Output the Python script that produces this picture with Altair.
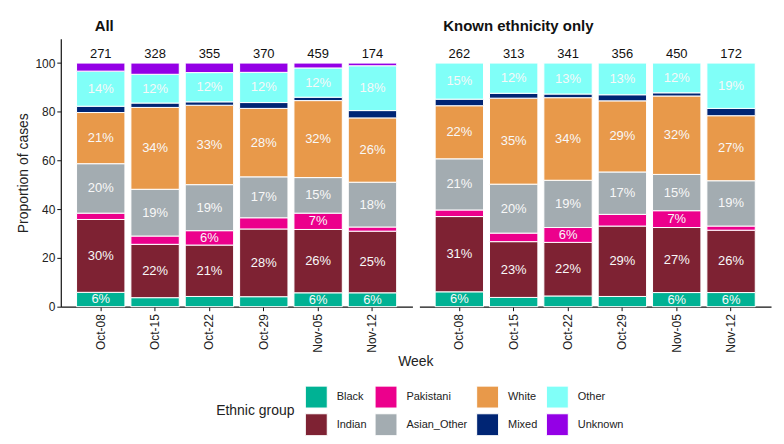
import altair as alt
import pandas as pd

FONT = "Liberation Sans, Arial, sans-serif"

weeks = ["Oct-08", "Oct-15", "Oct-22", "Oct-29", "Nov-05", "Nov-12"]
groups = ["Black", "Indian", "Pakistani", "Asian_Other", "White", "Mixed", "Other", "Unknown"]
group_colors = {
    "Black": "#00B294", "Indian": "#7E2233", "Pakistani": "#EC008C", "Asian_Other": "#A3ACB1",
    "White": "#E8994A", "Mixed": "#002574", "Other": "#80FFF8", "Unknown": "#9400E6",
}
legend_order = ["Black", "Pakistani", "White", "Other", "Indian", "Asian_Other", "Mixed", "Unknown"]

# Panel "All": case counts and percentages per ethnic group
all_n = [271, 328, 355, 370, 459, 174]
all_black = [5.9, 3.7, 4.2, 4.1, 5.7, 5.7]
all_indian = [29.9, 21.9, 21.1, 27.8, 26.0, 25.3]
all_pakistani = [2.6, 3.4, 5.9, 4.6, 6.7, 1.7]
all_asian_other = [20.3, 19.2, 18.9, 16.8, 14.6, 18.4]
all_white = [21.0, 33.6, 32.6, 28.1, 31.6, 26.4]
all_mixed = [2.6, 1.8, 1.4, 2.4, 1.4, 3.0]
all_other = [14.4, 11.8, 12.0, 12.4, 12.0, 18.4]
all_unknown = [3.3, 4.6, 3.9, 3.8, 2.0, 1.1]

# Panel "Known ethnicity only"
known_n = [262, 313, 341, 356, 450, 172]
known_black = [6.1, 3.8, 4.4, 4.2, 5.8, 5.8]
known_indian = [30.9, 22.9, 22.0, 28.9, 26.7, 25.6]
known_pakistani = [2.7, 3.5, 6.1, 4.8, 6.9, 1.7]
known_asian_other = [21.0, 20.1, 19.4, 17.4, 14.9, 18.6]
known_white = [21.8, 35.3, 33.9, 29.2, 32.2, 26.7]
known_mixed = [2.7, 2.0, 1.5, 2.5, 1.3, 3.0]
known_other = [14.8, 12.4, 12.7, 13.0, 12.2, 18.6]

panels = {
    "All": [all_black, all_indian, all_pakistani, all_asian_other, all_white,
            all_mixed, all_other, all_unknown],
    "Known ethnicity only": [known_black, known_indian, known_pakistani, known_asian_other,
                             known_white, known_mixed, known_other],
}
counts = {"All": all_n, "Known ethnicity only": known_n}

rows = []
for pname, series in panels.items():
    for gi, vals in enumerate(series):
        for wi, w in enumerate(weeks):
            rows.append({"panel": pname, "week": w, "group": groups[gi], "order": gi, "pct": vals[wi]})
df = pd.DataFrame(rows)

crow = []
for pname, ns in counts.items():
    for w, n in zip(weeks, ns):
        crow.append({"panel": pname, "week": w, "n": n})
cdf = pd.DataFrame(crow)

color_scale = alt.Scale(domain=legend_order, range=[group_colors[g] for g in legend_order])


def make_panel(pname, first, title_dx):
    x_axis = alt.Axis(
        labelAngle=-90, labelFontSize=12, labelColor="#222", tickColor="#111", tickSize=4,
        domainColor="#111", domainWidth=1.2, labelPadding=3,
        title="Week" if first else None, titleFontSize=14, titleFontWeight="normal",
        titleColor="#222", titleX=356, titleY=59, titleAlign="center", titleBaseline="alphabetic",
    )
    if first:
        y_axis = alt.Axis(values=[0, 20, 40, 60, 80, 100], title="Proportion of cases",
                          labelFontSize=12, labelColor="#222", tickColor="#111", tickSize=4,
                          domainColor="#111", domainWidth=1.2, labelPadding=2, grid=False,
                          titleFontSize=14, titleFontWeight="normal", titleColor="#222",
                          titlePadding=4)
    else:
        y_axis = None
    x = alt.X("week:N", sort=weeks, scale=alt.Scale(paddingInner=0.11, paddingOuter=0.29), axis=x_axis)
    yscale = alt.Scale(domain=[0, 110], nice=False)

    base = alt.Chart(df[df.panel == pname]).transform_stack(
        stack="pct", groupby=["week"], sort=[alt.SortField("order", order="ascending")], as_=["y0", "y1"]
    ).transform_calculate(
        mid="(datum.y0 + datum.y1) / 2",
        label="format(datum.pct, '.0f') + '%'",
    )
    bars = base.mark_bar(stroke="white", strokeWidth=1).encode(
        x=x,
        y=alt.Y("y0:Q", scale=yscale, axis=y_axis),
        y2="y1:Q",
        color=alt.Color("group:N", scale=color_scale, legend=alt.Legend(
            title="Ethnic group", orient="none", legendX=156, legendY=348, direction="horizontal",
            columns=4, symbolType="square", symbolSize=484, symbolStrokeColor="white",
            symbolStrokeWidth=1, symbolOpacity=1, labelFontSize=11, labelColor="#222",
            labelOffset=9, columnPadding=6, rowPadding=1, titleFontSize=14,
            titleFontWeight="normal", titleColor="#222", titleOrient="left",
            titlePadding=10, titleAnchor="middle", titleBaseline="middle",
        )),
    )
    labels = base.transform_filter("datum.pct >= 5.5").mark_text(
        color="#f8f8f8", fontSize=13, baseline="middle"
    ).encode(x=x, y=alt.Y("mid:Q", scale=yscale, axis=y_axis), text="label:N")
    ntext = alt.Chart(cdf[cdf.panel == pname]).mark_text(
        color="#111", fontSize=13, baseline="middle", dy=-9
    ).encode(x=x, y=alt.datum(100), text="n:Q")
    return alt.layer(bars, labels, ntext).properties(
        width=353, height=269,
        title=alt.TitleParams(pname, anchor="start", frame="group", dx=title_dx, fontSize=15,
                              fontWeight="bold", color="#111", offset=5),
    )


chart = alt.hconcat(
    make_panel("All", True, 34), make_panel("Known ethnicity only", False, 24),
    spacing=7, bounds="flush",
).properties(
    padding={"left": 8, "top": 10, "right": 5, "bottom": 5},
    background="white",
).configure(font=FONT).configure_view(stroke=None)

chart.save("out.html", embed_options={"renderer": "svg", "actions": False})
